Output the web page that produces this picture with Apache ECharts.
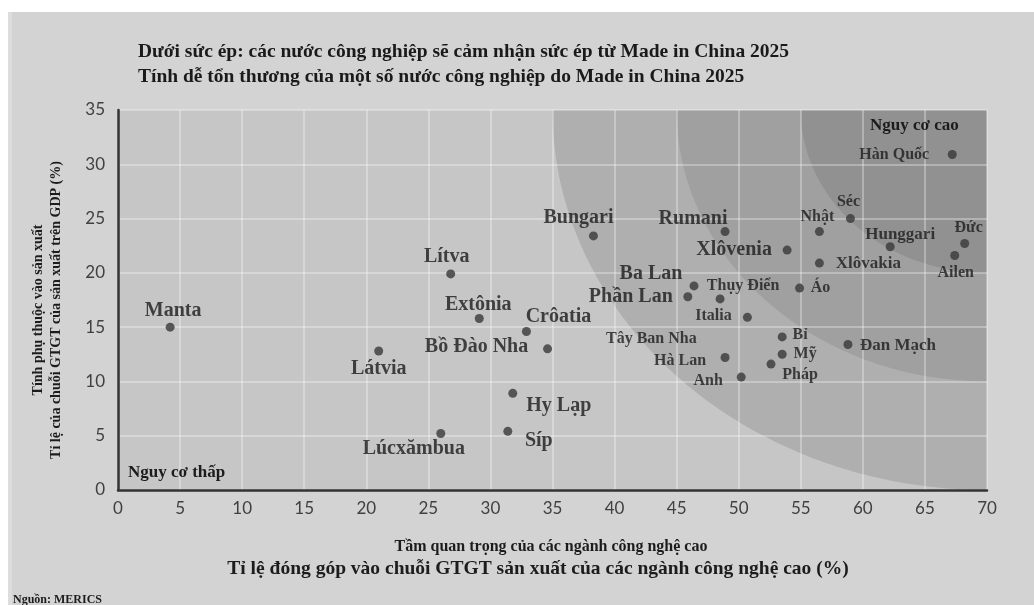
<!DOCTYPE html>
<html>
<head>
<meta charset="utf-8">
<script src="https://cdn.jsdelivr.net/npm/echarts@6/dist/echarts.min.js"></script>
<style>
  html, body { margin: 0; padding: 0; background: #ffffff; }
  #frame { position: absolute; left: 8px; top: 12px; width: 1026px; height: 593px; background: #d3d3d3; border-left: 4px solid #dddddd; box-sizing: border-box; }
  #chart { position: absolute; left: 0; top: 0; width: 1034px; height: 605px; }
</style>
</head>
<body>
<div id="frame"></div>
<div id="chart"></div>
<script>
// ---- Data ----
const countries = ['Manta', 'Látvia', 'Lítva', 'Extônia', 'Crôatia', 'Bồ Đào Nha', 'Hy Lạp', 'Síp', 'Lúcxămbua',
  'Bungari', 'Rumani', 'Xlôvenia', 'Nhật', 'Séc', 'Hunggari', 'Đức', 'Ailen', 'Xlôvakia', 'Hàn Quốc',
  'Ba Lan', 'Thụy Điển', 'Phần Lan', 'Áo', 'Italia', 'Bỉ', 'Mỹ', 'Pháp', 'Hà Lan', 'Anh', 'Tây Ban Nha', 'Đan Mạch'];
const highTechShare = [4.2, 21.0, 26.8, 29.1, 32.9, 34.6, 31.8, 31.4, 26.0,
  38.3, 48.9, 53.9, 56.5, 59.0, 62.2, 68.2, 67.4, 56.5, 67.2,
  46.4, 48.5, 45.9, 54.9, 50.7, 53.5, 53.5, 52.6, 48.9, 50.2, 48.2, 58.8];
const manufacturingShare = [15.0, 12.8, 19.9, 15.8, 14.6, 13.0, 8.9, 5.4, 5.2,
  23.4, 23.8, 22.1, 23.8, 25.0, 22.4, 22.7, 21.6, 20.9, 30.9,
  18.8, 17.6, 17.8, 18.6, 15.9, 14.1, 12.5, 11.6, 12.2, 10.4, 13.9, 13.4];
const xTicks = [0, 5, 10, 15, 20, 25, 30, 35, 40, 45, 50, 55, 60, 65, 70];
const yTicks = [0, 5, 10, 15, 20, 25, 30, 35];
const riskRadii = [35, 25, 15];
const titleLines = ['Dưới sức ép: các nước công nghiệp sẽ cảm nhận sức ép từ Made in China 2025',
  'Tính dễ tổn thương của một số nước công nghiệp do Made in China 2025'];
const xNameLines = ['Tầm quan trọng của các ngành công nghệ cao',
  'Tỉ lệ đóng góp vào chuỗi GTGT sản xuất của các ngành công nghệ cao (%)'];
const yNameLines = ['Tính phụ thuộc vào sản xuất', 'Tỉ lệ của chuỗi GTGT của sản xuất trên GDP (%)'];

// ---- Styling (label placement, not data) ----
const ringColors = ['#afafaf', '#a0a0a0', '#919191'];
const labelStyle = {
  'Manta': [3, -16, 20], 'Látvia': [0, 18, 20], 'Lítva': [-4, -17, 20], 'Extônia': [-1, -14, 20],
  'Crôatia': [32, -15, 20], 'Bồ Đào Nha': [-71, -2, 20], 'Hy Lạp': [46, 12, 20], 'Síp': [31, 9, 20],
  'Lúcxămbua': [-27, 15, 20], 'Bungari': [-15, -18, 20], 'Rumani': [-32, -13, 20], 'Xlôvenia': [-53, 0, 20],
  'Nhật': [-2, -15, 16], 'Séc': [-2, -17, 16], 'Hunggari': [10, -12, 17], 'Đức': [4, -16, 16],
  'Ailen': [1, 17, 16], 'Xlôvakia': [49, 1, 17], 'Hàn Quốc': [-58, 0, 16], 'Ba Lan': [-43, -12, 20],
  'Thụy Điển': [23, -13, 16], 'Phần Lan': [-57, 0, 20], 'Áo': [21, 0, 16], 'Italia': [-34, -2, 16],
  'Bỉ': [18, -2, 16], 'Mỹ': [23, 0, 16], 'Pháp': [29, 11, 16], 'Hà Lan': [-45, 3, 16], 'Anh': [-33, 4, 16],
  'Tây Ban Nha': [-65, 0, 16], 'Đan Mạch': [50, 1, 17]
};
const hiddenDot = { 'Tây Ban Nha': true };
const serif = '"Liberation Serif", "Times New Roman", serif';
const sans = 'Lato, "Open Sans", sans-serif';

const scatterData = countries.map((name, i) => {
  const s = labelStyle[name];
  return {
    name: name,
    value: [highTechShare[i], manufacturingShare[i]],
    symbolSize: hiddenDot[name] ? 0 : 9,
    label: {
      show: true, position: 'inside', offset: [s[0], s[1]],
      formatter: name, fontSize: s[2], fontWeight: 'bold', fontFamily: serif, color: '#1c1c1c'
    }
  };
});

const xMax = xTicks[xTicks.length - 1];
const yMax = yTicks[yTicks.length - 1];

function renderRings(params, api) {
  const c = api.coord([xMax, yMax]);
  const origin = api.coord([0, 0]);
  const children = riskRadii.map((r, i) => {
    const rx = c[0] - api.coord([xMax - r, yMax])[0];
    const ry = api.coord([xMax, yMax - r])[1] - c[1];
    const pts = [[c[0], c[1]]];
    for (let k = 0; k <= 120; k++) {
      const t = k / 120 * Math.PI / 2;
      pts.push([Math.max(origin[0], c[0] - rx * Math.cos(t)), Math.min(origin[1], c[1] + ry * Math.sin(t))]);
    }
    return { type: 'polygon', shape: { points: pts }, style: { fill: ringColors[i] }, silent: true };
  });
  return { type: 'group', children: children };
}

function textEl(text, x, y, font, opts) {
  return Object.assign({
    type: 'text', x: x, y: y, z: 10, silent: true,
    style: { text: text, font: font, fill: '#1c1c1c', textAlign: 'center', textVerticalAlign: 'middle' }
  }, opts || {});
}

const chart = echarts.init(document.getElementById('chart'), null, { renderer: 'canvas' });
const option = {
  animation: false,
  backgroundColor: 'transparent',
  grid: { left: 118, top: 110, right: 47, bottom: 115, show: true, backgroundColor: '#c6c6c6', borderWidth: 0 },
  xAxis: {
    type: 'value', min: xTicks[0], max: xMax, interval: 5, z: 3,
    axisLine: { show: true, lineStyle: { color: '#333333', width: 2.5 } },
    axisTick: { show: false },
    axisLabel: { margin: 10, fontFamily: sans, fontSize: 17, color: '#404040' },
    splitLine: { show: true, lineStyle: { color: 'rgba(255,255,255,0.3)', width: 2 } }
  },
  yAxis: {
    type: 'value', min: yTicks[0], max: yMax, interval: 5, z: 3,
    axisLine: { show: true, lineStyle: { color: '#333333', width: 2.5 } },
    axisTick: { show: false },
    axisLabel: { margin: 13, fontFamily: sans, fontSize: 17, color: '#404040' },
    splitLine: { show: true, lineStyle: { color: 'rgba(255,255,255,0.3)', width: 2 } }
  },
  graphic: [
    { type: 'text', left: 138, top: 42, z: 10, silent: true, style: { text: titleLines[0], font: 'bold 19.5px ' + serif, fill: '#1a1a1a' } },
    { type: 'text', left: 138, top: 67, z: 10, silent: true, style: { text: titleLines[1], font: 'bold 19.5px ' + serif, fill: '#1a1a1a' } },
    textEl(xNameLines[0], 551, 547, 'bold 16px ' + serif),
    textEl(xNameLines[1], 538, 569, 'bold 19.5px ' + serif),
    textEl(yNameLines[0], 38, 310, 'bold 14px ' + serif, { rotation: Math.PI / 2 }),
    textEl(yNameLines[1], 56, 310, 'bold 14px ' + serif, { rotation: Math.PI / 2 }),
    { type: 'text', left: 128, top: 464, z: 10, silent: true, style: { text: 'Nguy cơ thấp', font: 'bold 17px ' + serif, fill: '#1c1c1c' } },
    { type: 'text', left: 870, top: 117, z: 10, silent: true, style: { text: 'Nguy cơ cao', font: 'bold 17px ' + serif, fill: '#1c1c1c' } },
    { type: 'text', left: 13, top: 594, z: 10, silent: true, style: { text: 'Nguồn: MERICS', font: 'bold 12px ' + serif, fill: '#1c1c1c' } }
  ],
  series: [
    {
      type: 'custom', z: 1, silent: true, renderItem: renderRings,
      data: [[xMax, yMax]]
    },
    {
      type: 'scatter', z: 5, symbol: 'circle',
      itemStyle: { color: '#383838' },
      data: scatterData
    }
  ]
};
chart.setOption(option);
</script>
</body>
</html>
